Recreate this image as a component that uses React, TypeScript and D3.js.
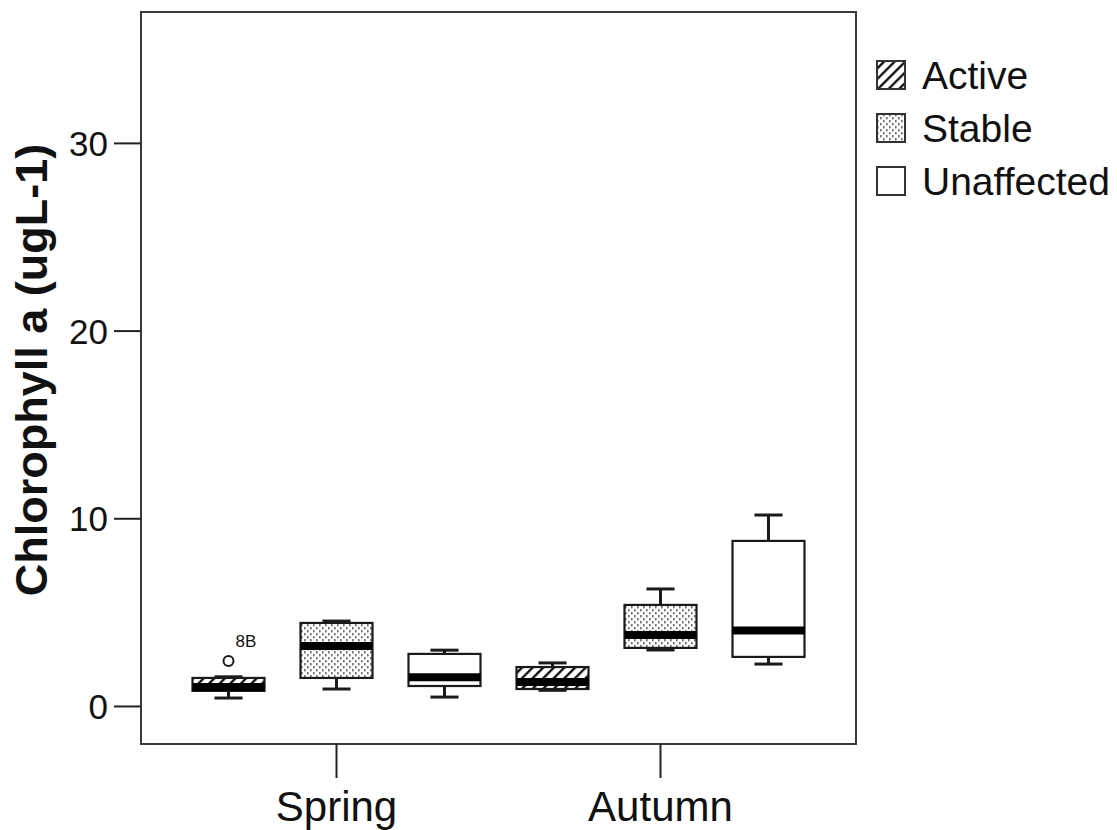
import React from "react";
import * as d3 from "d3";

// Box-plot summary per season × condition group
const seasons = ["Spring", "Autumn"];
const groups = ["Active", "Stable", "Unaffected"];

// Order: Spring Active, Spring Stable, Spring Unaffected, Autumn Active, Autumn Stable, Autumn Unaffected
const boxSeason = ["Spring", "Spring", "Spring", "Autumn", "Autumn", "Autumn"];
const boxGroup = ["Active", "Stable", "Unaffected", "Active", "Stable", "Unaffected"];
const whiskerLow = [0.45, 0.93, 0.5, 0.86, 3.01, 2.26];
const quartile1 = [0.83, 1.52, 1.09, 0.93, 3.12, 2.64];
const medians = [1.04, 3.22, 1.55, 1.3, 3.81, 4.05];
const quartile3 = [1.52, 4.45, 2.8, 2.1, 5.41, 8.82];
const whiskerHigh = [1.58, 4.55, 3.0, 2.32, 6.26, 10.2];

const outlierSeason = ["Spring"];
const outlierGroup = ["Active"];
const outlierValue = [2.42];
const outlierLabel = ["8B"];

const yTicks = [0, 10, 20, 30];
const yTitle = "Chlorophyll a (ugL-1)";

const W = 1117;
const H = 830;
const FONT = "'Liberation Sans', Arial, Helvetica, sans-serif";

export default function App() {
  const left = 141;
  const right = 856;
  const top = 12;
  const bottom = 744;

  const y = d3.scaleLinear().domain([-2, 37]).range([bottom, top]);
  const x0 = d3
    .scaleBand<string>()
    .domain(seasons)
    .range([left, right])
    .paddingInner(0)
    .paddingOuter(0.1034);
  const x1 = d3
    .scaleBand<string>()
    .domain(groups)
    .range([0, x0.bandwidth()])
    .paddingInner(1 / 3)
    .paddingOuter(1 / 6);

  const fills: Record<string, string> = {
    Active: "url(#hatch)",
    Stable: "url(#dots)",
    Unaffected: "#ffffff",
  };

  const bw = x1.bandwidth();
  const capW = bw * 0.39;
  const stroke = "#1a1a1a";

  const boxes = boxSeason.map((s, i) => {
    const x = (x0(s) as number) + (x1(boxGroup[i]) as number);
    const cx = x + bw / 2;
    return (
      <g key={i}>
        {/* whiskers */}
        <line x1={cx} x2={cx} y1={y(quartile3[i])} y2={y(whiskerHigh[i])} stroke={stroke} strokeWidth={3} />
        <line x1={cx} x2={cx} y1={y(quartile1[i])} y2={y(whiskerLow[i])} stroke={stroke} strokeWidth={3} />
        <line x1={cx - capW / 2} x2={cx + capW / 2} y1={y(whiskerHigh[i])} y2={y(whiskerHigh[i])} stroke={stroke} strokeWidth={3} />
        <line x1={cx - capW / 2} x2={cx + capW / 2} y1={y(whiskerLow[i])} y2={y(whiskerLow[i])} stroke={stroke} strokeWidth={3} />
        {/* box */}
        <rect
          x={x}
          y={y(quartile3[i])}
          width={bw}
          height={y(quartile1[i]) - y(quartile3[i])}
          fill={fills[boxGroup[i]]}
          stroke={stroke}
          strokeWidth={2.2}
        />
        {/* median */}
        <line x1={x} x2={x + bw} y1={y(medians[i])} y2={y(medians[i])} stroke="#000" strokeWidth={8} />
      </g>
    );
  });

  const outliers = outlierSeason.map((s, i) => {
    const cx = (x0(s) as number) + (x1(outlierGroup[i]) as number) + bw / 2;
    const cy = y(outlierValue[i]);
    return (
      <g key={"o" + i}>
        <circle cx={cx} cy={cy} r={5} fill="none" stroke={stroke} strokeWidth={2} />
        <text x={cx + 7} y={cy - 14} fontSize={17} fontFamily={FONT} fill="#111">
          {outlierLabel[i]}
        </text>
      </g>
    );
  });

  const legendX = 877;
  const legendY0 = 61;
  const legendStep = 53;
  const legendBox = 28;

  return (
    <svg width={W} height={H} style={{ position: "absolute", left: 0, top: 0, background: "#fff" }}>
      <defs>
        <pattern id="hatch" patternUnits="userSpaceOnUse" width={7.5} height={7.5} patternTransform="rotate(45)">
          <rect width={7.5} height={7.5} fill="#fff" />
          <line x1={1.2} x2={1.2} y1={0} y2={7.5} stroke="#000" strokeWidth={2.2} />
        </pattern>
        <pattern id="dots" patternUnits="userSpaceOnUse" width={6} height={6}>
          <rect width={6} height={6} fill="#fff" />
          <rect x={1} y={0} width={1.6} height={2.4} fill="#6e6e6e" />
          <rect x={4} y={3} width={1.6} height={2.4} fill="#6e6e6e" />
        </pattern>
      </defs>
      <rect width={W} height={H} fill="#fff" />

      {/* plot frame */}
      <rect x={left} y={top} width={right - left} height={bottom - top} fill="none" stroke="#3a3a3a" strokeWidth={2} />

      {/* y axis ticks */}
      {yTicks.map((t) => (
        <g key={t}>
          <line x1={114} x2={left} y1={y(t)} y2={y(t)} stroke="#222" strokeWidth={2} />
          <text
            x={108}
            y={y(t)}
            textAnchor="end"
            dominantBaseline="central"
            fontSize={35}
            fontFamily={FONT}
            fill="#111"
          >
            {t}
          </text>
        </g>
      ))}

      {/* x axis ticks */}
      {seasons.map((s) => {
        const cx = (x0(s) as number) + x0.bandwidth() / 2;
        return (
          <g key={s}>
            <line x1={cx} x2={cx} y1={bottom} y2={778} stroke="#222" strokeWidth={2} />
            <text x={cx} y={821} textAnchor="middle" fontSize={42} fontFamily={FONT} fill="#111">
              {s}
            </text>
          </g>
        );
      })}

      {/* y axis title */}
      <text
        transform={`translate(47, 370) rotate(-90)`}
        textAnchor="middle"
        fontSize={45}
        fontWeight="bold"
        fontFamily={FONT}
        fill="#111"
      >
        {yTitle}
      </text>

      {boxes}
      {outliers}

      {/* legend */}
      {groups.map((g, i) => (
        <g key={g}>
          <rect
            x={legendX}
            y={legendY0 + i * legendStep}
            width={legendBox}
            height={legendBox}
            fill={fills[g]}
            stroke="#333"
            strokeWidth={2}
          />
          <text
            x={922}
            y={legendY0 + i * legendStep + 28}
            fontSize={39}
            fontFamily={FONT}
            fill="#111"
          >
            {g}
          </text>
        </g>
      ))}
    </svg>
  );
}
